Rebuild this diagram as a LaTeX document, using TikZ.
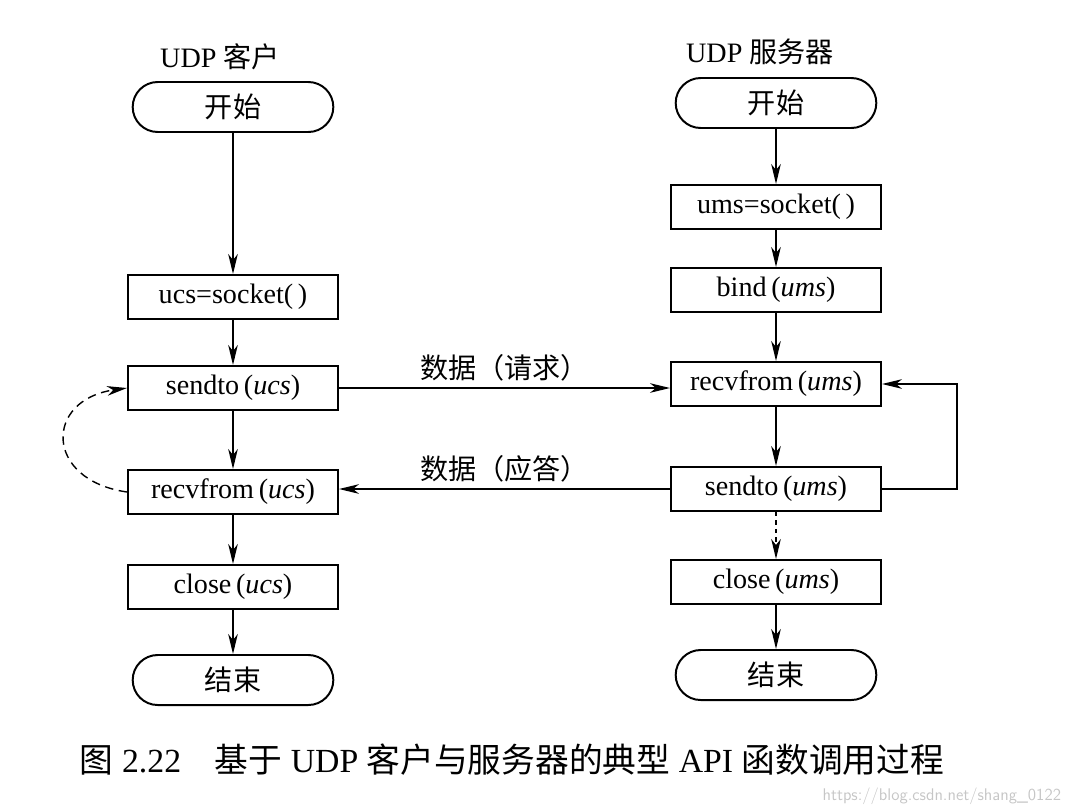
\documentclass[tikz,border=0pt]{standalone}
\usepackage{fontspec}
\setmainfont{Liberation Serif}
\newfontfamily\cjk{Noto Sans CJK SC}
\usetikzlibrary{arrows.meta,shapes.misc}

\begin{document}
\begin{tikzpicture}[
  font=\fontsize{20}{24}\selectfont,
  box/.style={draw,line width=1.4pt,minimum width=5.25cm,minimum height=1.1cm,inner sep=2pt},
  term/.style={draw,line width=1.4pt,rounded rectangle,minimum width=5.25cm,minimum height=1.25cm,font=\fontsize{20}{24}\selectfont\cjk},
  down/.style={line width=1pt,-{Stealth[length=5mm,width=2.4mm,inset=1.5mm]}},
  lbl/.style={font=\fontsize{20}{24}\selectfont\cjk}]
\useasboundingbox (0,0) rectangle (26.825,-20.225);
% client
\node at (5.5,-1.425) {UDP {\cjk 客户}};
\node[term] (cs) at (5.825,-2.675) {开始};
\node[box] (csock) at (5.825,-7.425) {ucs=socket(\,)};
\node[box] (csend) at (5.825,-9.7) {sendto\,(\textit{ucs})};
\node[box] (crecv) at (5.825,-12.3) {recvfrom\,(\textit{ucs})};
\node[box] (cclose) at (5.825,-14.675) {close\,(\textit{ucs})};
\node[term] (ce) at (5.825,-17.0) {结束};
\foreach \a/\b in {cs/csock,csock/csend,csend/crecv,crecv/cclose,cclose/ce} \draw[down] (\a.south)--(\b.north);
\draw[down,dash pattern=on 6pt off 4pt] (crecv.west) .. controls (1.1,-12.0) and (1.1,-10.0) .. (csend.west);
% server
\node at (19.0,-1.3) {UDP {\cjk 服务器}};
\node[term] (ss) at (19.4,-2.575) {开始};
\node[box] (ssock) at (19.4,-5.175) {ums=socket(\,)};
\node[box] (sbind) at (19.4,-7.25) {bind\,(\textit{ums})};
\node[box] (srecv) at (19.4,-9.6) {recvfrom\,(\textit{ums})};
\node[box] (ssend) at (19.4,-12.225) {sendto\,(\textit{ums})};
\node[box] (sclose) at (19.4,-14.55) {close\,(\textit{ums})};
\node[term] (se) at (19.4,-16.875) {结束};
\foreach \a/\b in {ss/ssock,ssock/sbind,sbind/srecv,srecv/ssend,sclose/se} \draw[down] (\a.south)--(\b.north);
\draw[down,dashed] (ssend.south)--(sclose.north);
\draw[down] (ssend.east) -- (23.925,-12.225) |- (srecv.east);
% data between them
\draw[down] (csend.east) -- (srecv.west |- csend.east) node[lbl,midway,above=1pt] {数据（请求）};
\draw[down] (ssend.west) -- (crecv.east |- ssend.west) node[lbl,midway,above=1pt] {数据（应答）};
% caption
\node[font=\fontsize{24}{28}\selectfont] (cap) at (12.8,-19.0) {{\cjk 图} 2.22\quad{\cjk 基于} UDP {\cjk 客户与服务器的典型} API {\cjk 函数调用过程}};
\node[anchor=east,text=gray!45,font=\sffamily\fontsize{12}{14}\selectfont] (wm) at (26.65,-19.9) {https://blog.csdn.net/shang\_0122};
\end{tikzpicture}
\end{document}
